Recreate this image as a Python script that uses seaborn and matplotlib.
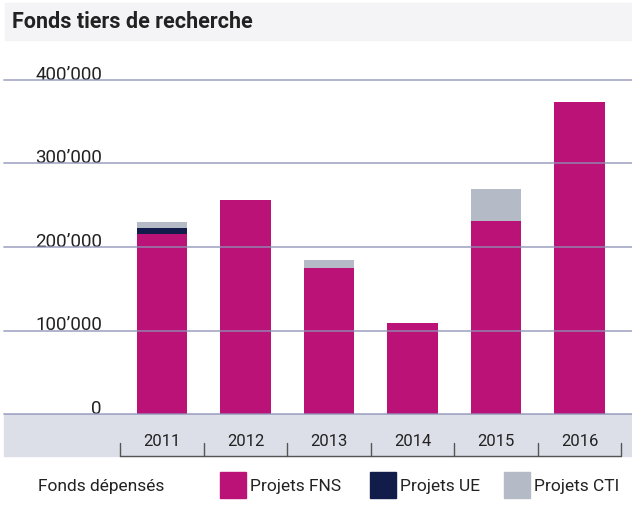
import numpy as np
import pandas as pd
import matplotlib
matplotlib.use("Agg")
import matplotlib.pyplot as plt
from matplotlib.patches import Rectangle
import seaborn as sns

annees = ["2011", "2012", "2013", "2014", "2015", "2016"]
projets_fns = [215600, 256300, 174900, 109000, 231100, 373700]
projets_ue = [7200, 0, 0, 0, 0, 0]
projets_cti = [7200, 0, 9600, 0, 38400, 0]
yticks = [0, 100000, 200000, 300000, 400000]
ytick_labels = ["0", "100\u2019000", "200\u2019000", "300\u2019000", "400\u2019000"]

col_fns = "#ba1277"
col_ue = "#111c4a"
col_cti = "#b4bac6"

sns.set_style("white")
plt.rcParams["font.family"] = ["Roboto", "DejaVu Sans"]

df = pd.DataFrame({"annee": annees, "fns": projets_fns, "ue": projets_ue, "cti": projets_cti})
df["fns_ue"] = df["fns"] + df["ue"]
df["total"] = df["fns_ue"] + df["cti"]

W, H = 632, 516
fig = plt.figure(figsize=(W / 100, H / 100), dpi=100)
ax = fig.add_axes([4 / W, (H - 414) / H, 628 / W, (414 - 80) / H])

# stacked bars: draw cumulative totals from back to front
for col, c in [("total", col_cti), ("fns_ue", col_ue), ("fns", col_fns)]:
    sns.barplot(data=df, x="annee", y=col, color=c, width=0.61, saturation=1,
                linewidth=0, edgecolor="none", ax=ax)

ax.set_xlim(-1.892, 5.629)
ax.set_ylim(0, 400000)
for s in ax.spines.values():
    s.set_visible(False)
ax.set_xticks([])
ax.set_yticks([])
ax.set_xlabel("")
ax.set_ylabel("")

ytr = ax.get_yaxis_transform()
for v, lab in zip(yticks, ytick_labels):
    ax.axhline(v, color="#8f92b8", lw=1.3, alpha=0.75, zorder=5, clip_on=False)
    ax.text(0.156, v, lab, transform=ytr, ha="right", va="baseline", fontsize=13.5, color="#222222")

# grey band under the axis with year labels and bracket
fig.add_artist(Rectangle((4 / W, (H - 456) / H), 628 / W, 42 / H, transform=fig.transFigure,
                         color="#dcdfe7", zorder=0))
xtr = ax.get_xaxis_transform()
ph = 414 - 80
for i, a in enumerate(annees):
    ax.text(i, -(441 - 414) / ph, a, transform=xtr, ha="center", va="center", fontsize=12, color="#222222")
ax.plot([-0.5, len(annees) - 0.5], [-(456 - 414) / ph] * 2, transform=xtr, color="#555555", lw=1, clip_on=False)
for i in range(len(annees) + 1):
    ax.plot([i - 0.5, i - 0.5], [-(456 - 414) / ph, -(443 - 414) / ph], transform=xtr,
            color="#555555", lw=1, clip_on=False)

# title band
fig.add_artist(Rectangle((5 / W, (H - 40) / H), 627 / W, 37 / H, transform=fig.transFigure,
                         color="#f4f4f6", zorder=0))
fig.text(12 / W, 1 - 22 / H, "Fonds tiers de recherche", ha="left", va="center",
         fontsize=15.5, fontweight="bold", color="#222222")

# legend
fig.text(38 / W, 1 - 487 / H, "Fonds dépensés", ha="left", va="center", fontsize=12.5, color="#222222")
for x0, c, lab in [(220, col_fns, "Projets FNS"), (370, col_ue, "Projets UE"), (504, col_cti, "Projets CTI")]:
    fig.add_artist(Rectangle((x0 / W, (H - 498) / H), 26 / W, 26 / H, transform=fig.transFigure, color=c))
    fig.text((x0 + 30) / W, 1 - 487 / H, lab, ha="left", va="center", fontsize=12.5, color="#222222")

fig.savefig("out.png", dpi=100)
